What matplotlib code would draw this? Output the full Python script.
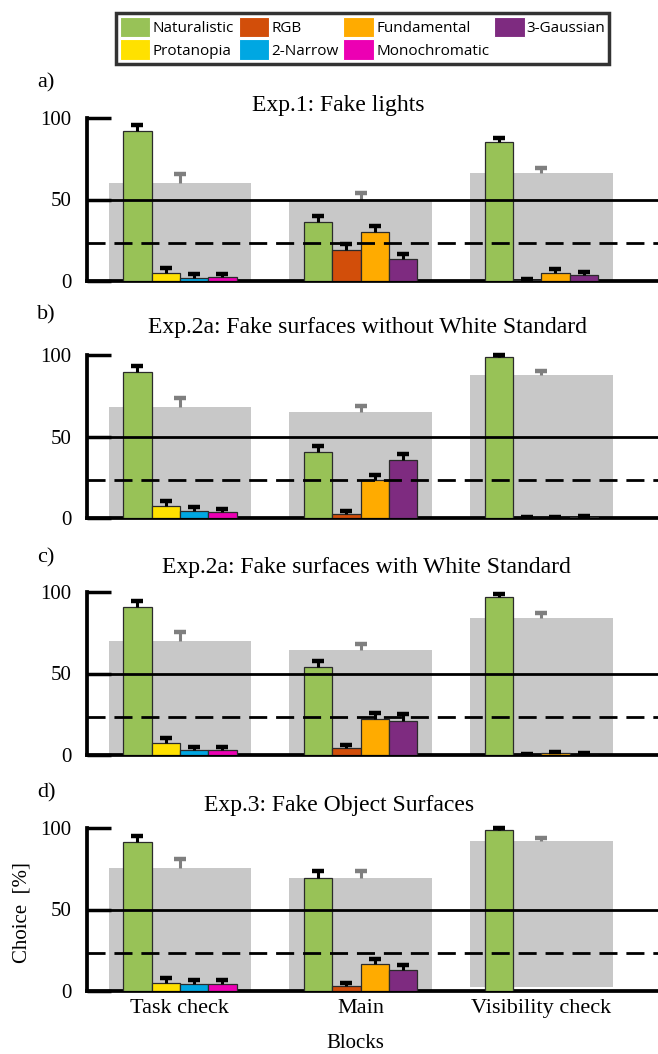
import matplotlib.pyplot as plt
import numpy as np

blocks = ['Task check', 'Main', 'Visibility check']
titles = ['Exp.1: Fake lights',
          'Exp.2a: Fake surfaces without White Standard',
          'Exp.2a: Fake surfaces with White Standard',
          'Exp.3: Fake Object Surfaces']
panel_labels = ['a)', 'b)', 'c)', 'd)']

# series shown in each block (4 bars per block)
block_series = [['Naturalistic', 'Protanopia', '2-Narrow', 'Monochromatic'],
                ['Naturalistic', 'RGB', 'Fundamental', '3-Gaussian'],
                ['Naturalistic', 'RGB', 'Fundamental', '3-Gaussian']]

colors = {'Naturalistic': '#98C257', 'RGB': '#D24E0A', 'Fundamental': '#FFAB00',
          '3-Gaussian': '#7E2B80', 'Protanopia': '#FFE100', '2-Narrow': '#00A7E2',
          'Monochromatic': '#EC00B3'}
legend_order = ['Naturalistic', 'Protanopia', 'RGB', '2-Narrow',
                'Fundamental', 'Monochromatic', '3-Gaussian']

# grey background bars (overall) per panel: mean, upper error, bottom
grey_mean = [[60, 50, 66], [68.4, 65.1, 88], [70, 64.3, 84.3], [75.3, 69.4, 91.8]]
grey_err = [[5.5, 4.0, 3.5], [5.5, 3.7, 2.4], [5.5, 3.7, 3.0], [5.7, 4.1, 2.1]]
grey_bottom = [[0, 0, 0], [0, 0, 0], [0, 0, 0], [0, 0, 2.4]]

# coloured bars per panel, per block (order as block_series)
bar_mean = [
    [[91.8, 5.2, 2.1, 2.5], [36.1, 19.0, 29.9, 13.4], [85.4, 0.4, 5.2, 3.5]],
    [[89.4, 7.6, 4.5, 3.7], [40.4, 2.7, 23.5, 35.7], [98.6, 0.2, 0.3, 0.5]],
    [[90.8, 7.3, 3.3, 3.1], [53.7, 4.3, 22.0, 21.0], [97.1, 0.2, 1.0, 0.3]],
    [[91.2, 5.1, 4.1, 4.1], [69.4, 3.1, 16.7, 12.7], [98.8, 0.0, 0.0, 0.0]],
]
bar_err = [
    [[3.7, 3.0, 2.0, 2.0], [3.7, 3.7, 3.7, 3.1], [2.6, 1.0, 2.4, 2.1]],
    [[3.7, 2.6, 2.2, 2.0], [3.5, 1.4, 3.0, 3.3], [1.2, 0.6, 0.5, 1.0]],
    [[3.7, 3.1, 1.8, 2.0], [4.1, 2.0, 3.5, 4.1], [1.9, 0.4, 1.0, 0.9]],
    [[4.1, 3.1, 2.8, 2.8], [4.5, 2.0, 3.1, 3.0], [1.0, 0.0, 0.0, 0.0]],
]

chance_high = 50
chance_low = 23.5

plt.rcParams['font.family'] = ['Liberation Serif', 'DejaVu Serif']

fig = plt.figure(figsize=(6.58, 10.54), dpi=100)
H = 1054.0
W = 658.0
# (pixel y of 0, pixel y of 100) for each panel
panel_px = [(281, 118), (518, 355), (755, 592), (991, 828)]
# title centre (x, y) and panel label y, in pixels
title_px = [(338, 106), (367, 327), (366, 568), (339, 806)]
label_py = [83, 315, 558, 793]
left_px = 87

x = np.arange(len(blocks))
bw = 0.157
offs = (np.arange(4) - 1.5) * bw


def up_err(ax, xs, tops, errs, color):
    xs = np.atleast_1d(xs)
    tops = np.atleast_1d(tops)
    errs = np.atleast_1d(errs)
    ax.vlines(xs, tops, tops + errs, color=color, lw=2.2, zorder=4, clip_on=False)
    ax.plot(xs, tops + errs, ls='none', marker='_', ms=8.8, mew=3.2, color=color,
            zorder=4, clip_on=False)


for p in range(4):
    y0, y100 = panel_px[p]
    ax = fig.add_axes([left_px / W, 1 - y0 / H, 1 - left_px / W, (y0 - y100) / H])
    gm = np.array(grey_mean[p])
    gb = np.array(grey_bottom[p])
    ax.bar(x, gm - gb, bottom=gb, width=0.79, color='#C8C8C8', zorder=1)
    up_err(ax, x, gm, grey_err[p], '#7F7F7F')
    for b in range(len(blocks)):
        for k, name in enumerate(block_series[b]):
            m = bar_mean[p][b][k]
            e = bar_err[p][b][k]
            if m <= 0 and e <= 0:
                continue
            ax.bar(x[b] + offs[k], m, width=bw, color=colors[name],
                   edgecolor='#2b2b2b', linewidth=0.9, zorder=3)
            up_err(ax, x[b] + offs[k], m, e, 'black')
    ax.axhline(chance_high, color='black', lw=2, zorder=5)
    ax.axhline(chance_low, color='black', lw=2, ls=(0, (6.5, 3.2)), zorder=5)
    ax.set_xlim(-0.514, 2.646)
    ax.set_ylim(0, 100)
    ax.set_yticks([0, 50, 100])
    ax.tick_params(axis='y', direction='in', length=17, width=2.5, labelsize=15, pad=11)
    ax.tick_params(axis='x', length=0, labelsize=16, pad=6)
    for s in ['top', 'right']:
        ax.spines[s].set_visible(False)
    ax.spines['left'].set_linewidth(2.7)
    ax.spines['bottom'].set_linewidth(2.7)
    ax.set_xticks(x)
    if p == 3:
        ax.set_xticklabels(blocks)
    else:
        ax.set_xticklabels([])
    fig.text(title_px[p][0] / W, 1 - title_px[p][1] / H, titles[p], fontsize=17,
             ha='center', va='center')
    fig.text(37 / W, 1 - label_py[p] / H, panel_labels[p], fontsize=16, va='center')

fig.text(355 / W, 1 - 1044 / H, 'Blocks', fontsize=15, ha='center', va='center')
fig.text(22 / W, 1 - 913 / H, 'Choice  [%]', fontsize=15, ha='center', va='center',
         rotation=90)

handles = [plt.Rectangle((0, 0), 1, 1, facecolor=colors[n], edgecolor='white', lw=0.8)
           for n in legend_order]
leg = fig.legend(handles, legend_order, loc='upper left',
                 bbox_to_anchor=(116 / W, 1 - 13 / H),
                 ncol=4, prop={'family': 'Open Sans', 'size': 11}, frameon=True,
                 fancybox=False, edgecolor='black', handlelength=2.0, handleheight=1.7,
                 handletextpad=0.15, columnspacing=0.3, labelspacing=0.13,
                 borderpad=0.25, borderaxespad=0)
leg.get_frame().set_linewidth(2.5)

fig.savefig('out.png', dpi=100)
